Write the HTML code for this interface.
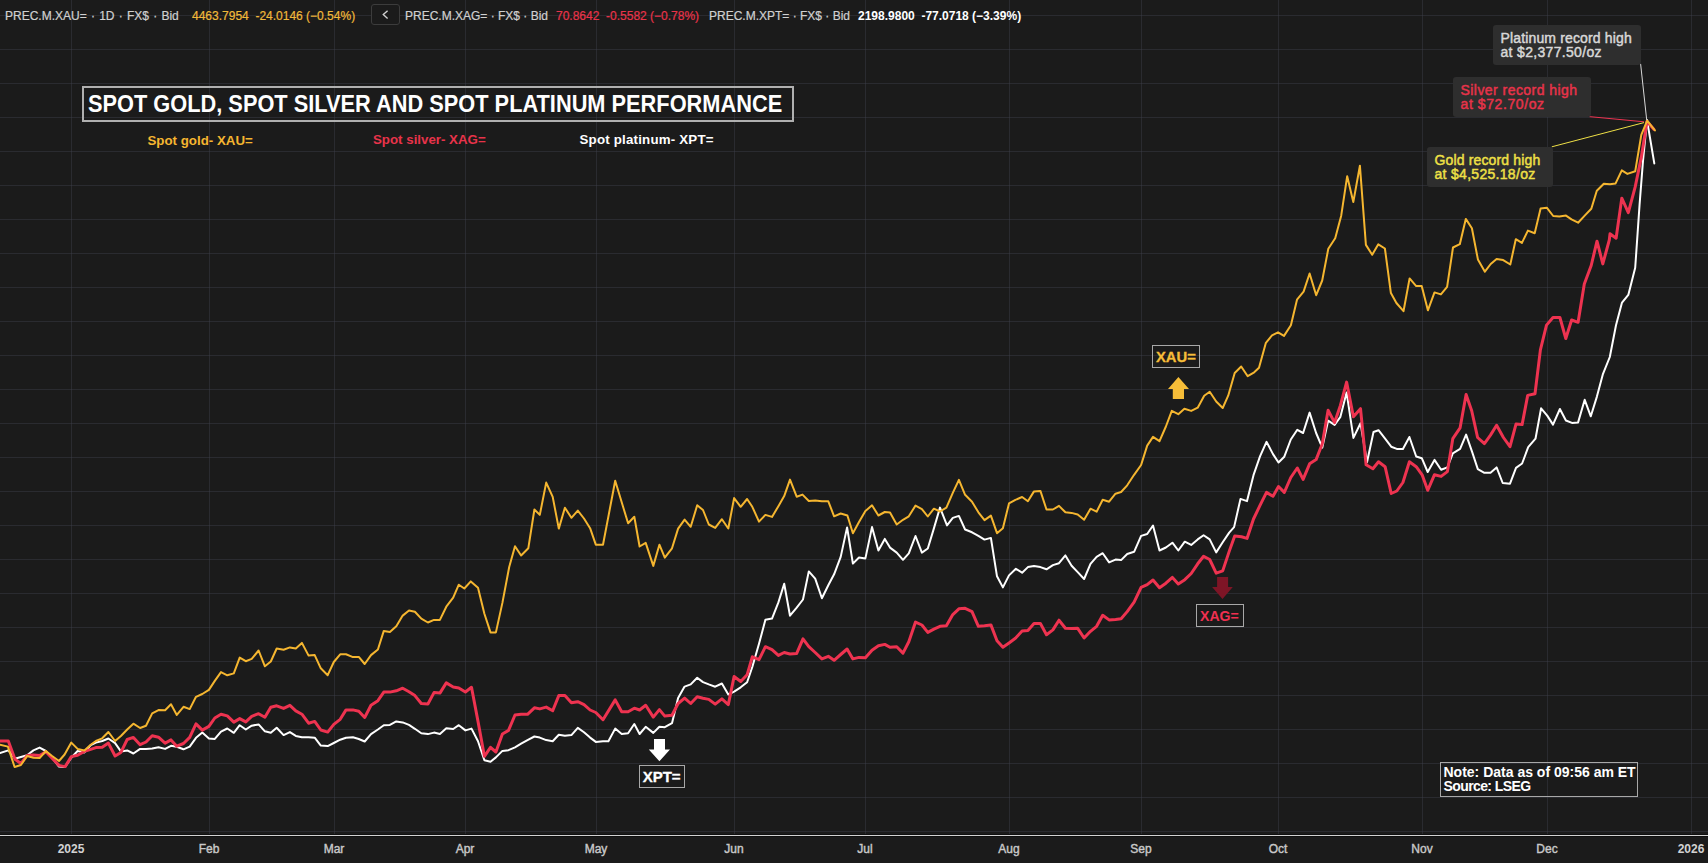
<!DOCTYPE html>
<html><head><meta charset="utf-8"><style>
*{margin:0;padding:0;box-sizing:border-box}
html,body{width:1708px;height:863px;overflow:hidden;background:#1b1b1b}
body{position:relative;font-family:"Liberation Sans",sans-serif}
svg{position:absolute;left:0;top:0}
.t{position:absolute;white-space:nowrap;line-height:1}
.top{position:absolute;top:10px;font-size:12px;line-height:12px;white-space:nowrap;color:#d0d0d0;-webkit-text-stroke:0.2px currentColor}
.xl{position:absolute;top:843px;width:60px;text-align:center;font-size:12px;line-height:12px;color:#c9c9c9;font-weight:normal;-webkit-text-stroke:0.4px #c9c9c9}
.xl.yr{font-weight:bold;-webkit-text-stroke:0;color:#d2d2d2}
.box{position:absolute;background:#2e2e2e;border-radius:3px;font-weight:normal;-webkit-text-stroke:0.45px currentColor;font-size:14px;line-height:14px;padding:0}
</style></head><body>
<svg width="1708" height="863" viewBox="0 0 1708 863">
<g stroke="rgba(64,67,80,0.4)" stroke-width="1" fill="none"><line x1="0" y1="15.5" x2="1708" y2="15.5"/><line x1="0" y1="49.5" x2="1708" y2="49.5"/><line x1="0" y1="83.5" x2="1708" y2="83.5"/><line x1="0" y1="117.5" x2="1708" y2="117.5"/><line x1="0" y1="151.5" x2="1708" y2="151.5"/><line x1="0" y1="185.5" x2="1708" y2="185.5"/><line x1="0" y1="219.5" x2="1708" y2="219.5"/><line x1="0" y1="253.5" x2="1708" y2="253.5"/><line x1="0" y1="287.5" x2="1708" y2="287.5"/><line x1="0" y1="321.5" x2="1708" y2="321.5"/><line x1="0" y1="355.5" x2="1708" y2="355.5"/><line x1="0" y1="389.5" x2="1708" y2="389.5"/><line x1="0" y1="423.5" x2="1708" y2="423.5"/><line x1="0" y1="457.5" x2="1708" y2="457.5"/><line x1="0" y1="491.5" x2="1708" y2="491.5"/><line x1="0" y1="525.5" x2="1708" y2="525.5"/><line x1="0" y1="559.5" x2="1708" y2="559.5"/><line x1="0" y1="593.5" x2="1708" y2="593.5"/><line x1="0" y1="627.5" x2="1708" y2="627.5"/><line x1="0" y1="661.5" x2="1708" y2="661.5"/><line x1="0" y1="695.5" x2="1708" y2="695.5"/><line x1="0" y1="729.5" x2="1708" y2="729.5"/><line x1="0" y1="763.5" x2="1708" y2="763.5"/><line x1="0" y1="797.5" x2="1708" y2="797.5"/><line x1="0" y1="831.5" x2="1708" y2="831.5"/><line x1="71.5" y1="0" x2="71.5" y2="835"/><line x1="209.5" y1="0" x2="209.5" y2="835"/><line x1="334.5" y1="0" x2="334.5" y2="835"/><line x1="465.5" y1="0" x2="465.5" y2="835"/><line x1="596.5" y1="0" x2="596.5" y2="835"/><line x1="734.5" y1="0" x2="734.5" y2="835"/><line x1="865.5" y1="0" x2="865.5" y2="835"/><line x1="1009.5" y1="0" x2="1009.5" y2="835"/><line x1="1141.5" y1="0" x2="1141.5" y2="835"/><line x1="1278.5" y1="0" x2="1278.5" y2="835"/><line x1="1422.5" y1="0" x2="1422.5" y2="835"/><line x1="1547.5" y1="0" x2="1547.5" y2="835"/><line x1="1691.5" y1="0" x2="1691.5" y2="835"/></g>
<line x1="0" y1="834.5" x2="1708" y2="834.5" stroke="#101010" stroke-width="1"/><line x1="0" y1="836.5" x2="1708" y2="836.5" stroke="#101010" stroke-width="1"/><line x1="0" y1="835.5" x2="1708" y2="835.5" stroke="#d2d2d2" stroke-width="1"/>
<g fill="none" stroke-linejoin="round" stroke-linecap="round">
<polyline stroke="#ffffff" stroke-width="2" points="0.0,753.1 8.3,750.4 15.0,758.7 20.9,757.0 27.1,755.2 33.4,750.4 39.6,747.6 45.9,751.0 52.1,757.7 59.0,766.6 65.1,767.0 71.3,757.7 77.6,751.0 84.4,752.4 90.7,745.1 95.9,742.6 102.2,741.0 108.4,738.5 115.1,743.1 120.9,751.4 127.2,750.4 133.4,753.5 140.1,748.9 146.0,748.9 152.2,748.5 158.5,747.2 165.1,748.9 171.0,745.8 176.8,746.8 183.5,749.3 189.7,746.6 196.0,737.8 202.3,732.6 208.9,738.5 214.8,738.9 221.0,731.6 227.3,728.5 233.8,732.8 239.7,725.2 245.8,729.5 251.7,725.7 258.6,724.4 264.9,731.3 270.8,732.8 276.7,727.7 283.6,735.1 289.9,732.1 295.8,735.9 301.9,737.2 308.6,737.2 314.7,737.7 320.8,745.6 327.7,746.1 333.8,743.0 340.2,739.7 346.0,737.7 352.9,737.2 358.8,739.0 364.7,741.5 371.0,734.1 377.9,729.5 383.8,725.2 389.9,724.9 396.3,721.4 402.7,722.4 409.0,724.9 414.9,728.8 421.3,733.3 427.9,734.1 434.0,732.6 439.9,733.9 446.3,728.3 453.2,729.0 458.8,725.2 465.4,730.4 471.5,728.6 478.0,741.2 484.4,760.2 490.5,761.7 495.9,757.4 502.4,750.9 508.5,750.2 515.0,747.3 521.1,743.7 527.5,740.1 534.4,736.5 539.8,737.6 546.2,740.1 552.7,741.2 558.8,734.7 564.9,735.8 571.4,735.1 577.8,727.9 584.0,732.2 590.1,737.6 595.8,741.9 603.0,741.2 608.4,741.2 615.2,728.6 621.7,734.0 628.1,733.3 634.3,724.0 639.6,734.0 645.7,726.8 653.3,732.9 659.4,726.8 664.8,727.2 672.0,723.2 678.1,698.1 684.6,686.6 690.7,684.4 697.2,677.7 703.0,682.1 708.8,684.4 715.2,686.7 721.9,683.5 728.3,694.5 734.1,691.6 740.7,687.3 747.1,682.3 752.3,667.0 759.0,643.8 765.4,619.8 772.0,618.6 778.4,602.4 784.2,583.8 790.0,615.7 796.7,607.6 803.0,599.5 808.8,571.4 815.2,578.6 821.9,598.3 828.3,585.3 834.1,574.3 840.7,556.9 847.1,527.4 852.9,563.6 859.0,557.5 865.4,558.4 872.0,527.1 878.4,550.5 884.8,538.9 890.0,547.6 896.7,552.6 903.0,559.8 908.8,553.4 915.5,536.0 921.9,552.6 927.8,548.5 933.9,528.4 940.0,507.6 947.0,525.4 952.8,517.9 958.9,515.9 965.1,529.5 972.0,532.3 978.4,535.9 984.5,539.6 990.9,537.9 997.0,576.3 1002.9,587.4 1009.0,575.4 1015.9,568.8 1022.1,572.7 1027.9,567.1 1034.0,566.0 1040.4,567.1 1046.5,569.3 1052.9,565.1 1059.0,563.2 1065.4,555.4 1071.6,565.7 1077.7,572.1 1084.1,579.0 1090.5,563.8 1096.6,556.8 1102.7,553.2 1109.1,562.4 1115.5,559.6 1121.1,560.1 1127.2,554.0 1134.1,551.8 1141.1,535.9 1147.2,534.0 1153.0,525.5 1159.5,550.5 1165.9,547.5 1172.4,542.7 1178.3,550.5 1184.8,541.7 1191.2,544.9 1197.7,539.4 1203.6,535.2 1209.7,539.4 1216.2,552.4 1222.7,542.3 1229.2,532.6 1234.1,527.1 1240.5,498.9 1247.0,501.1 1253.5,475.2 1260.0,456.4 1266.5,441.8 1273.0,454.1 1278.5,462.5 1284.3,456.7 1290.8,439.5 1297.3,429.8 1303.1,433.0 1309.6,412.6 1316.1,433.0 1322.3,447.6 1328.1,420.7 1334.6,424.9 1340.4,416.8 1346.6,392.4 1353.4,437.9 1360.5,423.3 1367.0,462.2 1373.5,432.0 1378.5,430.2 1385.1,438.7 1391.2,446.7 1396.8,448.9 1402.9,448.9 1409.4,437.0 1416.2,456.5 1421.8,458.2 1427.7,472.0 1434.5,459.9 1441.1,469.8 1447.4,467.4 1452.8,453.3 1460.1,448.9 1466.1,434.6 1472.2,452.1 1477.8,469.1 1484.4,472.8 1490.5,472.8 1496.6,467.4 1502.7,483.0 1510.0,483.7 1516.0,467.9 1522.1,463.5 1528.2,447.2 1535.5,438.7 1541.1,408.3 1547.2,415.6 1553.0,424.6 1559.9,409.0 1565.9,420.5 1572.0,422.9 1578.1,422.4 1584.7,399.8 1590.8,416.3 1596.9,396.6 1602.8,374.4 1609.8,357.0 1616.0,325.3 1622.0,302.6 1628.3,294.9 1635.2,267.8 1639.6,204.3 1643.0,160.8 1647.0,120.0 1654.3,163.4"/>
<polyline stroke="#ee3350" stroke-width="3" points="0.0,741.0 8.3,741.0 15.0,759.3 20.9,763.5 27.1,755.6 33.4,754.9 39.6,755.6 45.9,751.8 52.1,758.1 59.0,765.4 65.1,766.6 71.3,756.6 77.6,755.2 84.4,751.4 90.7,749.3 95.9,747.6 102.2,747.2 108.4,743.1 115.1,756.0 120.9,752.4 127.2,739.5 133.4,737.4 140.1,744.7 146.0,742.0 152.2,735.8 158.5,737.2 165.1,743.1 171.0,739.9 176.8,746.2 183.5,743.5 189.7,737.4 196.0,723.9 202.3,730.1 208.9,726.4 214.8,718.0 221.0,714.3 227.3,715.9 233.8,722.1 239.7,718.6 245.8,721.9 251.7,716.3 258.6,713.7 264.9,717.3 270.8,707.3 276.7,705.8 283.6,708.4 289.9,705.3 295.8,710.9 301.9,714.2 308.6,723.2 314.7,721.4 320.8,730.0 327.7,732.1 333.8,724.4 340.2,719.3 346.0,709.9 352.9,709.9 358.8,711.2 364.7,717.5 371.0,705.3 377.9,700.7 383.8,692.1 389.9,692.1 396.3,690.8 402.7,688.2 409.0,691.8 414.9,695.6 421.3,703.5 427.9,704.0 434.0,692.6 439.9,693.1 446.3,682.9 453.2,687.0 458.8,688.0 465.4,692.0 471.5,687.3 478.0,721.4 484.4,756.3 490.5,747.3 495.9,752.0 502.4,734.0 508.5,730.4 515.0,715.0 521.1,714.3 527.5,714.3 534.4,707.8 539.8,708.9 546.2,707.1 552.7,710.7 558.8,695.6 564.9,695.6 571.4,702.8 577.8,701.7 584.0,704.6 590.1,710.0 595.8,712.5 603.0,719.7 615.2,699.9 621.7,711.7 628.1,711.7 634.3,708.2 639.6,710.0 645.7,705.3 653.3,717.1 659.4,709.6 664.8,716.1 672.0,715.3 678.1,703.5 684.6,698.1 690.7,703.5 697.2,696.8 703.0,698.3 708.8,699.4 715.2,704.1 721.9,698.9 728.3,704.6 734.1,676.5 740.7,681.5 747.1,674.8 752.3,656.8 759.0,659.7 765.4,646.7 772.0,649.6 778.4,655.4 784.2,652.5 790.0,654.0 796.7,653.4 803.0,638.9 808.8,646.7 815.2,652.5 821.9,658.9 828.3,656.3 834.1,660.3 840.7,654.5 847.1,649.0 852.9,658.9 859.0,657.4 865.4,657.7 872.0,650.2 878.4,645.8 884.8,644.4 890.0,647.3 896.7,646.7 903.0,653.1 908.8,641.8 915.5,622.1 921.9,625.0 927.8,632.4 933.9,629.1 940.0,626.3 946.4,625.8 952.8,614.6 958.9,608.8 965.1,608.3 972.0,611.6 978.4,626.3 984.5,625.8 990.9,624.9 997.0,640.8 1002.9,647.2 1009.0,643.0 1015.4,638.3 1022.1,631.1 1027.9,630.5 1034.0,623.5 1040.4,623.5 1046.5,634.7 1052.9,629.9 1059.0,620.2 1065.4,628.3 1071.6,628.6 1077.7,628.3 1084.1,638.0 1090.5,631.3 1096.6,626.3 1102.7,615.2 1109.1,619.9 1115.5,619.4 1121.1,618.8 1127.2,611.6 1134.1,602.1 1141.1,587.4 1147.2,584.6 1153.0,580.0 1159.5,587.8 1165.9,583.2 1172.4,577.4 1178.3,583.9 1184.8,579.7 1191.2,573.5 1197.7,563.8 1203.6,556.3 1209.7,559.5 1216.2,573.2 1222.7,570.9 1229.2,551.4 1234.7,535.9 1241.5,536.8 1247.0,538.4 1253.5,519.0 1260.0,505.4 1266.5,492.4 1273.0,496.3 1278.5,486.5 1284.3,492.4 1290.8,477.5 1297.3,468.0 1303.1,479.4 1309.6,463.8 1316.1,459.6 1322.3,443.7 1328.1,410.3 1334.6,422.6 1340.4,405.4 1346.6,382.1 1353.4,416.8 1360.5,408.7 1366.1,464.8 1372.9,468.7 1378.5,461.8 1385.1,466.7 1391.2,493.5 1396.8,491.0 1402.9,482.5 1409.4,461.8 1416.2,466.7 1422.3,475.2 1427.7,490.3 1434.5,474.7 1441.1,476.4 1447.4,471.6 1452.8,438.7 1460.1,427.8 1466.1,394.4 1471.7,410.7 1477.6,437.5 1484.4,443.6 1490.5,435.1 1496.6,425.3 1503.4,437.5 1510.0,446.7 1516.0,424.1 1522.1,424.6 1527.7,395.4 1535.0,393.7 1540.4,349.9 1546.5,325.1 1553.0,317.5 1559.9,317.5 1565.8,338.5 1571.6,320.0 1578.1,322.3 1584.3,284.0 1591.2,265.5 1597.0,241.2 1602.8,263.9 1609.3,240.0 1610.0,233.8 1616.1,238.2 1621.8,198.2 1628.3,212.6 1635.2,186.9 1641.3,157.4 1647.0,121.6 1653.8,129.2"/>
<polyline stroke="#f5b630" stroke-width="2" points="0.0,744.7 7.9,746.6 14.6,767.0 20.9,765.0 27.1,756.0 33.4,757.7 39.6,758.1 45.9,751.0 52.1,756.0 59.0,761.0 64.6,754.5 71.3,742.6 77.6,748.9 84.4,750.4 90.7,744.7 95.9,741.0 102.2,738.3 108.4,732.0 115.1,741.0 120.9,736.0 127.2,729.5 133.4,723.7 140.1,728.0 146.0,725.7 152.2,713.4 158.5,710.1 165.1,710.3 171.0,704.3 176.8,714.9 183.5,706.8 189.7,709.1 196.0,696.8 202.3,694.0 208.9,689.9 214.8,680.9 221.0,672.1 227.3,675.3 233.8,673.4 239.7,657.6 245.8,661.2 251.7,658.9 258.6,650.5 264.9,666.3 270.8,661.5 276.7,648.5 283.6,649.7 289.9,647.4 295.8,648.5 301.9,642.9 308.6,655.6 314.7,655.1 320.8,668.3 327.7,675.2 333.8,662.0 340.2,654.3 346.0,654.3 352.9,657.1 358.8,656.9 364.7,664.0 371.0,655.1 377.9,649.5 383.8,630.9 389.9,632.1 396.3,626.3 402.7,615.6 409.0,610.5 414.9,611.7 421.3,618.6 427.9,622.5 434.0,619.9 439.9,619.9 446.3,606.7 453.2,597.7 458.8,584.7 464.3,588.5 470.8,581.4 478.0,587.8 484.4,613.7 490.5,632.4 495.9,632.4 502.4,602.9 509.2,567.0 515.0,546.2 521.1,555.5 528.3,548.3 534.4,509.5 539.8,514.9 546.2,482.6 552.7,496.9 558.8,528.6 564.9,507.7 571.4,517.8 577.8,510.6 584.0,518.5 590.1,528.2 595.8,544.7 603.0,544.7 615.2,480.8 621.7,502.3 628.1,523.2 634.3,516.7 639.6,546.5 645.7,542.9 653.3,565.9 659.4,544.7 664.8,557.6 672.0,548.3 678.1,528.6 684.6,519.6 690.7,526.8 697.2,505.3 703.0,510.0 708.8,524.5 715.2,527.9 721.9,519.2 728.3,528.5 734.1,498.1 740.7,506.8 747.1,499.0 752.3,506.8 759.0,521.6 765.4,514.9 772.0,516.9 778.4,506.2 784.2,496.1 790.0,479.6 796.7,496.7 802.5,494.6 808.8,501.0 815.2,500.4 821.9,501.3 828.3,501.3 834.1,516.3 840.7,513.5 847.4,515.5 852.9,533.2 859.0,522.1 865.4,511.1 872.0,505.3 878.4,515.5 884.8,512.0 890.0,512.6 896.7,524.5 903.0,519.8 908.8,516.3 915.5,505.6 921.9,509.1 927.8,516.5 933.9,508.7 940.0,511.5 946.4,507.6 952.8,492.8 958.9,479.8 965.1,494.8 972.0,501.7 978.4,512.3 984.5,520.1 990.9,515.6 997.0,533.2 1002.9,528.2 1009.0,503.4 1015.4,499.8 1022.1,497.0 1027.9,501.2 1034.0,491.4 1040.4,490.9 1046.5,509.5 1052.9,509.5 1059.0,505.9 1065.4,512.3 1071.6,512.9 1077.7,514.5 1084.1,519.8 1090.5,508.7 1096.6,511.7 1102.7,499.8 1109.1,501.7 1115.5,493.7 1121.1,492.0 1127.2,485.3 1134.1,474.8 1141.1,465.0 1147.2,445.6 1153.0,436.9 1159.5,441.1 1165.9,426.5 1171.8,410.9 1178.3,414.2 1184.4,408.7 1191.2,410.9 1197.7,407.7 1204.2,395.7 1209.7,391.8 1216.2,401.5 1222.7,408.0 1228.2,395.7 1234.7,373.0 1241.2,366.5 1247.7,376.2 1254.2,372.3 1259.0,367.8 1265.9,342.8 1272.0,335.3 1278.0,332.3 1284.0,335.9 1290.9,325.3 1297.0,299.7 1303.6,291.6 1309.6,273.5 1316.2,295.2 1322.2,280.5 1328.3,248.8 1335.2,238.3 1341.2,215.7 1347.2,176.2 1353.3,202.1 1359.9,165.7 1365.9,244.9 1372.2,254.8 1378.3,244.3 1384.9,248.5 1390.9,293.1 1396.4,303.0 1403.5,311.2 1409.6,278.4 1416.2,286.1 1421.7,286.1 1427.9,310.3 1434.5,292.4 1440.9,294.4 1447.1,286.9 1453.0,247.5 1459.8,244.2 1465.8,218.9 1471.9,228.2 1477.9,259.4 1484.9,271.7 1490.7,264.0 1496.6,259.0 1503.2,260.1 1510.3,264.5 1515.8,239.2 1521.9,242.9 1527.9,230.6 1534.7,233.2 1540.6,208.6 1546.8,207.7 1553.2,216.0 1559.4,216.5 1566.0,215.6 1571.5,219.4 1578.1,222.7 1584.7,215.6 1591.3,208.8 1596.8,190.7 1603.8,183.7 1610.0,184.3 1615.6,183.4 1621.8,170.4 1627.4,173.9 1635.2,171.3 1641.3,134.8 1647.2,120.7 1654.9,130.4"/>
</g>
<line x1="1640.6" y1="63.8" x2="1646.6" y2="119" stroke="#d8d8d8" stroke-width="1"/>
<line x1="1589.3" y1="116.6" x2="1644" y2="121.8" stroke="#ee3350" stroke-width="1"/>
<line x1="1551.8" y1="146.8" x2="1644" y2="122.6" stroke="#efe046" stroke-width="1"/>
</svg>
<div class="top" style="left:5px;word-spacing:0.9px">PREC.M.XAU= &#183; 1D &#183; FX$ &#183; Bid</div>
<div class="top" style="left:192px;color:#f0b93a">4463.7954&nbsp; -24.0146 (&#8722;0.54%)</div>
<div style="position:absolute;left:371px;top:4px;width:29px;height:21px;border:1px solid #3c3c3c;border-radius:3px;background:#1b1b1b"></div>
<svg width="1708" height="30" style="pointer-events:none"><polyline points="387.6,10.8 383.3,14.6 387.6,18.4" fill="none" stroke="#d0d0d0" stroke-width="1.4"/></svg>
<div class="top" style="left:405px">PREC.M.XAG= &#183; FX$ &#183; Bid</div>
<div class="top" style="left:556px;color:#e8334a">70.8642&nbsp; -0.5582 (&#8722;0.78%)</div>
<div class="top" style="left:709px">PREC.M.XPT= &#183; FX$ &#183; Bid</div>
<div class="top" style="left:858px;color:#ffffff;font-weight:bold;-webkit-text-stroke:0">2198.9800&nbsp; -77.0718 (&#8722;3.39%)</div>

<div style="position:absolute;left:82px;top:86px;width:712px;height:36px;border:2px solid #b0b0b0"></div>
<div class="t" style="left:88.2px;top:91.9px;font-size:24px;font-weight:bold;color:#fff;transform:scaleX(0.9075);transform-origin:0 0">SPOT GOLD, SPOT SILVER AND SPOT PLATINUM PERFORMANCE</div>
<div class="t" style="left:147.5px;top:133.7px;font-size:13.3px;font-weight:bold;color:#f5b630">Spot gold- XAU=</div>
<div class="t" style="left:373px;top:133.2px;font-size:13.3px;font-weight:bold;color:#e8334a">Spot silver- XAG=</div>
<div class="t" style="left:579.5px;top:133.2px;font-size:13.3px;font-weight:bold;color:#ffffff;letter-spacing:0.2px">Spot platinum- XPT=</div>

<div class="box" style="left:1493px;top:25px;width:148px;height:40px;color:#d8d8d8;padding:6px 0 0 7.5px"><span style="letter-spacing:0.15px">Platinum record high</span><br><span style="letter-spacing:0.32px">at $2,377.50/oz</span></div>
<div class="box" style="left:1453px;top:77px;width:138px;height:40px;color:#e8334a;padding:6px 0 0 7.5px"><span style="letter-spacing:0.45px">Silver record high</span><br><span style="letter-spacing:0.59px">at $72.70/oz</span></div>
<div class="box" style="left:1427px;top:147px;width:126px;height:40px;color:#efe046;padding:6px 0 0 7.5px"><span style="letter-spacing:0.15px">Gold record high</span><br><span style="letter-spacing:0.3px">at $4,525.18/oz</span></div>

<div style="position:absolute;left:1152px;top:345px;width:48px;height:23px;border:1px solid #a8a8a8"></div>
<div class="t" style="left:1155.7px;top:349.4px;font-size:15px;font-weight:bold;color:#f6bd38;-webkit-text-stroke:0.3px #f6bd38;transform:scaleX(0.985);transform-origin:0 0">XAU=</div>
<svg width="1708" height="863" style="pointer-events:none">
<polygon points="1178.4,377 1189,389 1184,389 1184,399 1172.8,399 1172.8,389 1168,389" fill="#f6bd38"/>
<polygon points="1222.5,599 1232.8,587 1228.1,587 1228.1,577 1217.1,577 1217.1,587 1212.1,587" fill="#7e1526"/>
<polygon points="659.4,761.3 670,749.5 665,749.5 665,739 654,739 654,749.5 648.8,749.5" fill="#ffffff"/>
</svg>
<div style="position:absolute;left:1196px;top:604px;width:48px;height:23px;border:1px solid #a8a8a8"></div>
<div class="t" style="left:1199.8px;top:608.4px;font-size:15px;font-weight:bold;color:#f03050;transform:scaleX(0.94);transform-origin:0 0">XAG=</div>
<div style="position:absolute;left:639px;top:765px;width:46px;height:23px;border:1px solid #a8a8a8"></div>
<div class="t" style="left:642.7px;top:769.3px;font-size:15px;font-weight:bold;color:#fff;-webkit-text-stroke:0.3px #fff;transform-origin:0 0">XPT=</div>

<div style="position:absolute;left:1440px;top:762px;width:198px;height:35px;border:1px solid #a8a8a8;padding:2px 0 0 2.5px;font-size:14px;line-height:14px;font-weight:bold;color:#fff">Note: Data as of 09:56 am ET<br><span style="letter-spacing:-0.6px">Source: LSEG</span></div>
<div class="xl yr" style="left:41px">2025</div><div class="xl" style="left:179px">Feb</div><div class="xl" style="left:304px">Mar</div><div class="xl" style="left:435px">Apr</div><div class="xl" style="left:566px">May</div><div class="xl" style="left:704px">Jun</div><div class="xl" style="left:835px">Jul</div><div class="xl" style="left:979px">Aug</div><div class="xl" style="left:1111px">Sep</div><div class="xl" style="left:1248px">Oct</div><div class="xl" style="left:1392px">Nov</div><div class="xl" style="left:1517px">Dec</div><div class="xl yr" style="left:1661px">2026</div>
</body></html>
